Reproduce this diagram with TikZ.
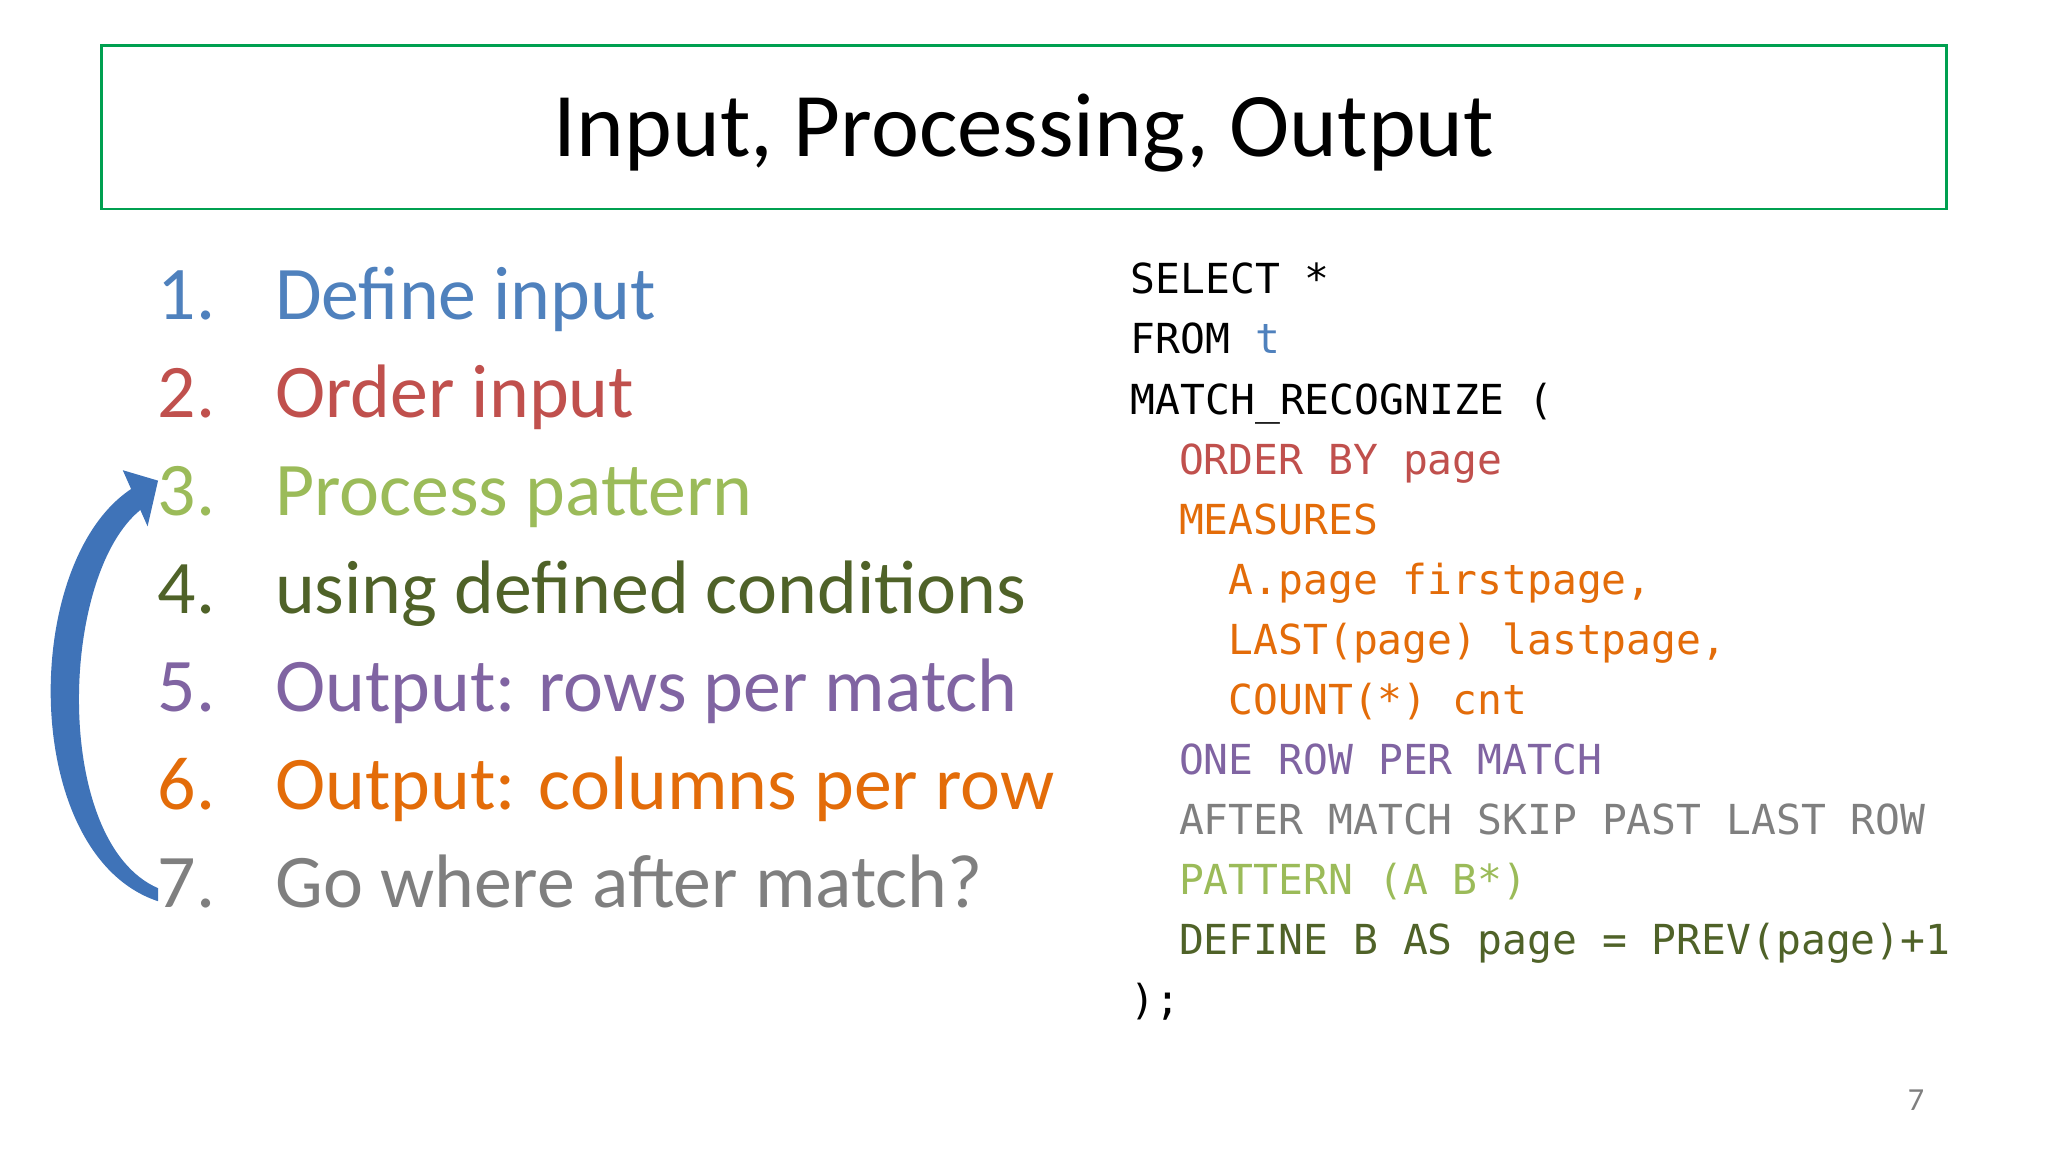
\documentclass[tikz,border=0pt]{standalone}
\usepackage{fontspec}
\setmainfont{Carlito}
\newfontfamily\codefont{DejaVu Sans Mono}
\definecolor{cblue}{HTML}{4F81BD}
\definecolor{cred}{HTML}{C0504D}
\definecolor{cgreen}{HTML}{9BBB59}
\definecolor{colive}{HTML}{4F6228}
\definecolor{cpurple}{HTML}{8064A2}
\definecolor{corange}{HTML}{E36C09}
\definecolor{cgray}{HTML}{7F7F7F}
\definecolor{cframe}{HTML}{00A050}
\definecolor{carrow}{HTML}{3F73B8}
\tikzset{
  item/.style={anchor=base west,inner sep=0pt,font=\fontsize{16.5pt}{16.5pt}\selectfont},
  code/.style={anchor=base west,inner sep=0pt,font=\codefont\fontsize{9pt}{9pt}\selectfont},
}
\begin{document}
\begin{tikzpicture}[x=0.01cm,y=-0.01cm]
\useasboundingbox (0,0) rectangle (1568,882);
\draw[cframe,line width=0.6pt] (78,35) rectangle (1490,160);
\node[inner sep=0pt,font=\fontsize{19.8pt}{19.8pt}\selectfont] (title) at (784,102) {Input, Processing, Output};
% list
\foreach \n/\t/\c [count=\i from 0] in {1./Define input/cblue,2./Order input/cred,3./Process pattern/cgreen,4./using defined conditions/colive,5./Output: rows per match/cpurple,6./Output: columns per row/corange,7./Go where after match?/cgray}{
  \node[item,text=\c] (n\i) at (120,{245+75*\i}) {\n};
  \node[item,text=\c] (t\i) at (210,{245+75*\i}) {\t};
}
% arrow
\fill[carrow] (121,690) .. controls (15,655) and (15,430) .. (101,374) -- (108,390) .. controls (45,440) and (40,645) .. (121,680) -- cycle;
\fill[carrow] (94,360) -- (121,368) -- (113,403) -- cycle;
% code
\node[code] (c1) at (865,225) {SELECT *};
\node[code] (c2) at (865,271) {FROM \textcolor{cblue}{t}};
\node[code] (c3) at (865,317) {MATCH\_RECOGNIZE (};
\node[code,text=cred] (c4) at (902,363) {ORDER BY page};
\node[code,text=corange] (c5) at (902,409) {MEASURES};
\node[code,text=corange] (c6) at (940,455) {A.page firstpage,};
\node[code,text=corange] (c7) at (940,501) {LAST(page) lastpage,};
\node[code,text=corange] (c8) at (940,547) {COUNT(*) cnt};
\node[code,text=cpurple] (c9) at (902,593) {ONE ROW PER MATCH};
\node[code,text=cgray] (c10) at (902,639) {AFTER MATCH SKIP PAST LAST ROW};
\node[code,text=cgreen] (c11) at (902,685) {PATTERN (A B*)};
\node[code,text=colive] (c12) at (902,731) {DEFINE B AS page = PREV(page)+1};
\node[code] (c13) at (865,777) {);};
\node[inner sep=0pt,text=cgray,font=\fontsize{7pt}{7pt}\selectfont] (pg) at (1467,842) {7};
\end{tikzpicture}
\end{document}
